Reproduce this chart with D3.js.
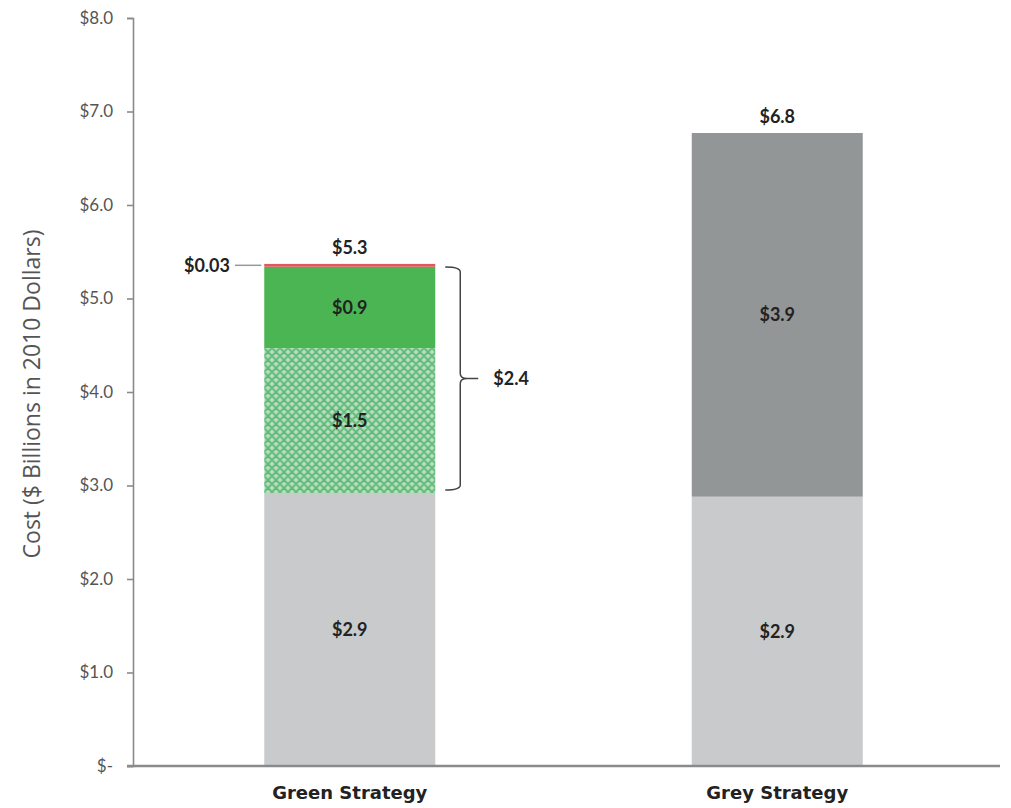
<!DOCTYPE html>
<html>
<head>
<meta charset="utf-8">
<script src="https://cdn.jsdelivr.net/npm/d3@7"></script>
<style>
  body { margin: 0; background: #fff; }
  svg { display: block; }
  .ytick text { font-family: Lato, "DejaVu Sans", sans-serif; font-size: 17px; fill: #555; }
  .val { font-family: Lato, "DejaVu Sans", sans-serif; font-weight: bold; font-size: 18px; fill: #222; }
</style>
</head>
<body>
<svg id="chart" width="1011" height="808"></svg>
<script>
// categories and stacked segment values ($ billions)
var categories = ["Green Strategy", "Grey Strategy"];
var segments = ["base", "greenPattern", "greenSolid", "other", "greyExtra"];
var greenValues = [2.92, 1.55, 0.87, 0.03, 0];
var greyValues = [2.88, 0, 0, 0, 3.89];
var segLabels = [["$2.9", "$1.5", "$0.9", "", ""], ["$2.9", "", "", "", "$3.9"]];
var totalLabels = ["$5.3", "$6.8"];
var yTicks = [0, 1, 2, 3, 4, 5, 6, 7, 8];

var svg = d3.select("#chart");
var plotTop = 18, plotBottom = 766, plotLeft = 133, plotRight = 1000;

var y = d3.scaleLinear().domain([0, 8]).range([plotBottom, plotTop]);
var x = d3.scaleBand().domain(categories).range([136, 991]).paddingInner(0.6).paddingOuter(0.3);

var colors = { base: "#c8cacc", greenPattern: "url(#lattice)", greenSolid: "#4cb553", other: "#e05a5a", greyExtra: "#939697" };

// lattice pattern for the hatched green segment
var defs = svg.append("defs");
var pat = defs.append("pattern").attr("id", "lattice").attr("patternUnits", "userSpaceOnUse")
  .attr("width", 8).attr("height", 8);
pat.append("rect").attr("width", 8).attr("height", 8).attr("fill", "#9dd8a8");
pat.append("path").attr("d", "M0,4 L4,0 L8,4 L4,8 Z").attr("fill", "none").attr("stroke", "#5db87a").attr("stroke-width", 1.5);
[[4, 4], [0, 0], [8, 0], [0, 8], [8, 8]].forEach(function (p) {
  pat.append("circle").attr("cx", p[0]).attr("cy", p[1]).attr("r", 1.3).attr("fill", "#c4dcc6");
});

// stack data
var rows = categories.map(function (c, i) {
  var vals = i === 0 ? greenValues : greyValues;
  var r = { cat: c };
  segments.forEach(function (s, j) { r[s] = vals[j]; });
  return r;
});
var stacked = d3.stack().keys(segments)(rows);

var layers = svg.append("g").selectAll("g").data(stacked).enter().append("g")
  .attr("fill", function (d) { return colors[d.key]; });

layers.selectAll("rect").data(function (d) { return d; }).enter().append("rect")
  .attr("x", function (d) { return x(d.data.cat); })
  .attr("width", x.bandwidth())
  .attr("y", function (d) { return y(d[1]); })
  .attr("height", function (d) { return y(d[0]) - y(d[1]); });

// segment labels
stacked.forEach(function (layer, j) {
  layer.forEach(function (d, i) {
    var lab = segLabels[i][j];
    if (!lab) return;
    svg.append("text").attr("class", "val")
      .attr("x", x(d.data.cat) + x.bandwidth() / 2)
      .attr("y", y((d[0] + d[1]) / 2))
      .attr("dy", "0.35em").attr("text-anchor", "middle").text(lab);
  });
});

// totals above bars
rows.forEach(function (r, i) {
  var tot = d3.sum(segments, function (s) { return r[s]; });
  svg.append("text").attr("class", "val")
    .attr("x", x(r.cat) + x.bandwidth() / 2)
    .attr("y", y(tot) - 10)
    .attr("text-anchor", "middle").text(totalLabels[i]);
});

// $0.03 call-out
var gTop = d3.sum(greenValues);
svg.append("line").attr("x1", 235).attr("x2", x(categories[0]) - 3)
  .attr("y1", y(gTop - 0.015)).attr("y2", y(gTop - 0.015))
  .attr("stroke", "#999").attr("stroke-width", 1.5);
svg.append("text").attr("class", "val").attr("x", 230).attr("y", y(gTop - 0.015))
  .attr("dy", "0.35em").attr("text-anchor", "end").text("$0.03");

// bracket over the green infrastructure part
var bLo = y(greenValues[0]) - 3, bHi = y(gTop) + 3, bx = x(categories[0]) + x.bandwidth() + 10;
var bMid = (bLo + bHi) / 2;
svg.append("path")
  .attr("d", "M" + bx + "," + bHi + " Q" + (bx + 15) + "," + bHi + " " + (bx + 15) + "," + (bHi + 5) +
    " L" + (bx + 15) + "," + (bMid - 5) + " Q" + (bx + 15) + "," + bMid + " " + (bx + 22) + "," + bMid +
    " L" + (bx + 33) + "," + bMid +
    " M" + (bx + 22) + "," + bMid + " Q" + (bx + 15) + "," + bMid + " " + (bx + 15) + "," + (bMid + 5) +
    " L" + (bx + 15) + "," + (bLo - 5) + " Q" + (bx + 15) + "," + bLo + " " + bx + "," + bLo)
  .attr("fill", "none").attr("stroke", "#444").attr("stroke-width", 1.5);
svg.append("text").attr("class", "val").attr("x", bx + 48).attr("y", bMid)
  .attr("dy", "0.35em").text("$2.4");

// y axis
var yAxis = svg.append("g").attr("class", "ytick").attr("transform", "translate(" + plotLeft + ",0)")
  .call(d3.axisLeft(y).tickValues(yTicks).tickSize(6).tickPadding(14)
    .tickFormat(function (d) { return d === 0 ? "$-" : "$" + d3.format(".1f")(d); }));
yAxis.selectAll("path, line").attr("stroke", "#8a8a8a").attr("stroke-width", 1.6);

// x axis
var xAxis = svg.append("g").attr("transform", "translate(0," + plotBottom + ")")
  .call(d3.axisBottom(x).tickSize(0).tickPadding(20));
xAxis.select(".domain").attr("d", "M127,0H" + plotRight).attr("stroke", "#8a8a8a").attr("stroke-width", 2.5);
xAxis.selectAll("text").attr("font-family", "'DejaVu Sans', sans-serif").attr("font-weight", "bold")
  .attr("font-size", 18).attr("fill", "#222");

// y axis title
svg.append("text").attr("transform", "translate(40," + ((plotTop + plotBottom) / 2 + 2) + ") rotate(-90)")
  .attr("text-anchor", "middle").attr("font-family", "'Open Sans', sans-serif")
  .attr("font-size", 23).attr("fill", "#555").text("Cost ($ Billions in 2010 Dollars)");
</script>
</body>
</html>
